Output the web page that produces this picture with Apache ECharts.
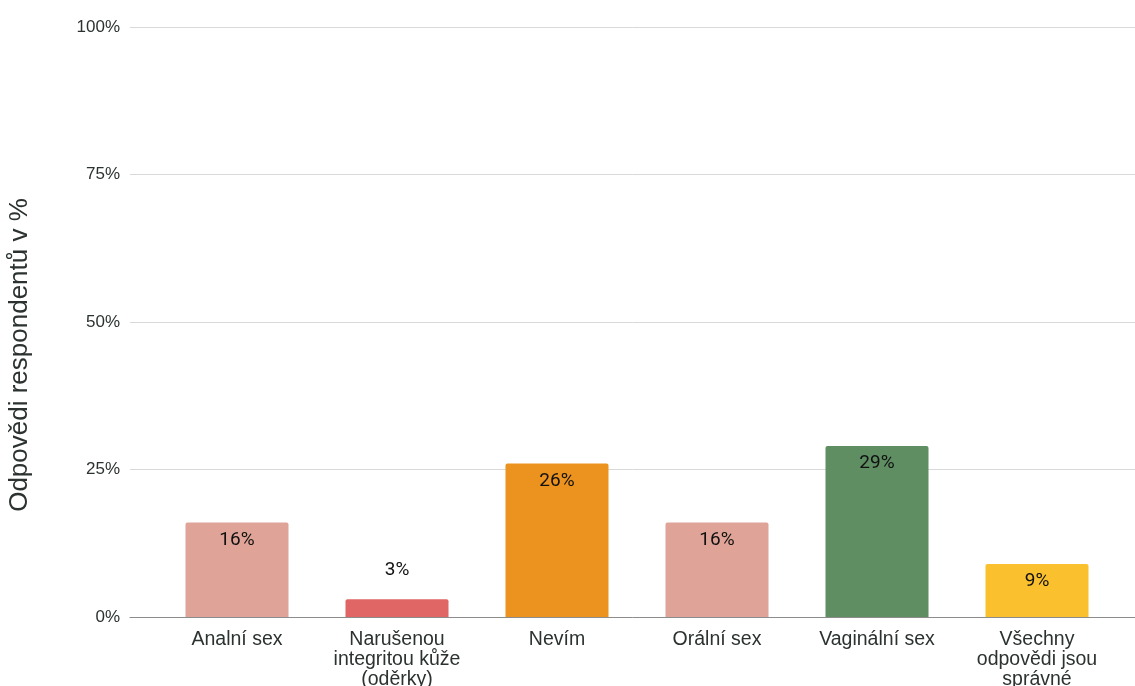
<!DOCTYPE html>
<html>
<head>
<meta charset="utf-8">
<script src="https://cdn.jsdelivr.net/npm/echarts@6/dist/echarts.min.js"></script>
<style>
  html, body { margin: 0; padding: 0; background: #fff; }
  #chart { width: 1135px; height: 686px; }
</style>
</head>
<body>
<div id="chart"></div>
<script>
// Answers to the question, share of respondents in percent
const categories = [
  'Analní sex',
  'Narušenou\nintegritou kůže\n(oděrky)',
  'Nevím',
  'Orální sex',
  'Vaginální sex',
  'Všechny\nodpovědi jsou\nsprávné'
];
const values = [16, 3, 26, 16, 29, 9];
const barColors = ['#e0a397', '#e06666', '#eb931e', '#e0a397', '#5f8e63', '#fbc02d'];
const yTicks = [0, 25, 50, 75, 100];
const yAxisTitle = 'Odpovědi respondentů v %';

const textColor = '#2b3230';
const sansFont = '"Liberation Sans", Arial, sans-serif';

const chart = echarts.init(document.getElementById('chart'), null, { renderer: 'canvas' });

const barData = values.map((v, i) => {
  const item = { value: v, itemStyle: { color: barColors[i] } };
  // short bars carry their label above the bar
  if (v < 5) {
    item.label = { position: 'top', distance: 20 };
  }
  return item;
});

chart.setOption({
  animation: false,
  backgroundColor: '#ffffff',
  grid: [
    { left: 130, right: 0, top: 27, bottom: 69, containLabel: false, outerBoundsMode: 'none' },
    { left: 157, right: 18, top: 27, bottom: 69, containLabel: false, outerBoundsMode: 'none' }
  ],
  xAxis: [
    {
      gridIndex: 0,
      type: 'category',
      data: categories,
      axisLine: { show: true, lineStyle: { color: '#8c8c8c', width: 1 } },
      axisTick: { show: false },
      axisLabel: { show: false }
    },
    {
      gridIndex: 1,
      type: 'category',
      data: categories,
      axisLine: { show: false },
      axisTick: { show: false },
      axisLabel: {
        show: true,
        interval: 0,
        margin: 13,
        color: textColor,
        fontFamily: sansFont,
        fontSize: 19.5,
        lineHeight: 20
      }
    }
  ],
  yAxis: [
    {
      gridIndex: 0,
      type: 'value',
      min: yTicks[0],
      max: yTicks[yTicks.length - 1],
      interval: yTicks[1] - yTicks[0],
      name: yAxisTitle,
      nameLocation: 'middle',
      nameGap: 97,
      nameRotate: 90,
      nameTextStyle: {
        color: textColor,
        fontFamily: sansFont,
        fontSize: 26,
        padding: [0, 66, 0, 0]
      },
      axisLine: { show: false },
      axisTick: { show: false },
      axisLabel: {
        margin: 10,
        color: textColor,
        fontFamily: sansFont,
        fontSize: 17,
        formatter: v => v + '%'
      },
      splitLine: { show: true, lineStyle: { color: '#d9d9d9', width: 1 } }
    },
    {
      gridIndex: 1,
      type: 'value',
      min: yTicks[0],
      max: yTicks[yTicks.length - 1],
      interval: yTicks[1] - yTicks[0],
      show: false,
      splitLine: { show: false }
    }
  ],
  series: [
    {
      type: 'bar',
      xAxisIndex: 1,
      yAxisIndex: 1,
      data: barData,
      barWidth: 103,
      itemStyle: { borderRadius: [2, 2, 0, 0] },
      label: {
        show: true,
        position: 'insideTop',
        distance: 8,
        color: '#111111',
        fontFamily: 'Roboto, sans-serif',
        fontSize: 19,
        formatter: p => Math.round(p.value) + '%'
      }
    }
  ]
});
</script>
</body>
</html>
